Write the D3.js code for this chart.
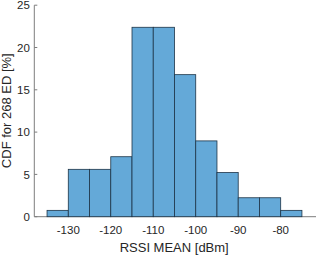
<!DOCTYPE html>
<html>
<head>
<meta charset="utf-8">
<script src="https://cdn.jsdelivr.net/npm/d3@7"></script>
<style>
  body { margin: 0; background: #fff; }
  text { font-family: "Liberation Sans", Arial, sans-serif; fill: #262626; }
</style>
</head>
<body>
<div id="chart"></div>
<script>
// bin edges (dBm) and share of devices per bin (%)
const binStart = [-135, -130, -125, -120, -115, -110, -105, -100, -95, -90, -85, -80];
const binEnd   = [-130, -125, -120, -115, -110, -105, -100, -95, -90, -85, -80, -75];
const percent  = [0.75, 5.6, 5.6, 7.09, 22.39, 22.39, 16.79, 8.96, 5.22, 2.24, 2.24, 0.75];
const xTicks = [-130, -120, -110, -100, -90, -80];
const yTicks = [0, 5, 10, 15, 20, 25];

const W = 316, H = 255;

const svg = d3.select("#chart")
  .append("svg")
    .attr("width", W)
    .attr("height", H);

const x = d3.scaleLinear()
    .domain([-138, -71.5])
    .range([34.3, 316.8]);

const y = d3.scaleLinear()
    .domain([0, 25])
    .range([216.7, 5.2]);

// axes (MATLAB style: ticks inside, no box)
const axisColor = "#7d7d7d";

svg.append("line")
    .attr("x1", x.range()[0]).attr("x2", W)
    .attr("y1", y(0)).attr("y2", y(0))
    .attr("stroke", axisColor).attr("stroke-width", 1);
svg.append("line")
    .attr("x1", x.range()[0]).attr("x2", x.range()[0])
    .attr("y1", y(0)).attr("y2", y(25))
    .attr("stroke", axisColor).attr("stroke-width", 1);

svg.selectAll(".ytick")
  .data(yTicks)
  .enter()
  .append("line")
    .attr("x1", x.range()[0]).attr("x2", x.range()[0] + 3)
    .attr("y1", d => y(d)).attr("y2", d => y(d))
    .attr("stroke", axisColor);

svg.selectAll(".xtick")
  .data(xTicks)
  .enter()
  .append("line")
    .attr("x1", d => x(d)).attr("x2", d => x(d))
    .attr("y1", y(0)).attr("y2", y(0) - 3)
    .attr("stroke", axisColor);

svg.selectAll(".bar")
  .data(percent)
  .enter()
  .append("rect")
    .attr("class", "bar")
    .attr("x", (d, i) => x(binStart[i]))
    .attr("y", d => y(d))
    .attr("width", (d, i) => x(binEnd[i]) - x(binStart[i]))
    .attr("height", d => y(0) - y(d))
    .attr("fill", "#64a9d8")
    .attr("stroke", "#1d3447")
    .attr("stroke-width", 0.8);

svg.selectAll(".ylab")
  .data(yTicks)
  .enter()
  .append("text")
    .attr("x", 29.8)
    .attr("y", d => y(d))
    .attr("dy", "0.36em")
    .attr("text-anchor", "end")
    .style("font-size", "11.5px")
    .text(d => d);

svg.selectAll(".xlab")
  .data(xTicks)
  .enter()
  .append("text")
    .attr("x", d => x(d))
    .attr("y", 233.8)
    .attr("text-anchor", "middle")
    .style("font-size", "11.5px")
    .text(d => d);

svg.append("text")
    .attr("x", 174.2)
    .attr("y", 251.8)
    .attr("text-anchor", "middle")
    .style("font-size", "13px")
    .text("RSSI MEAN [dBm]");

svg.append("text")
    .attr("transform", "translate(11.3,110.7) rotate(-90)")
    .attr("text-anchor", "middle")
    .style("font-size", "13px")
    .text("CDF for 268 ED [%]");
</script>
</body>
</html>
